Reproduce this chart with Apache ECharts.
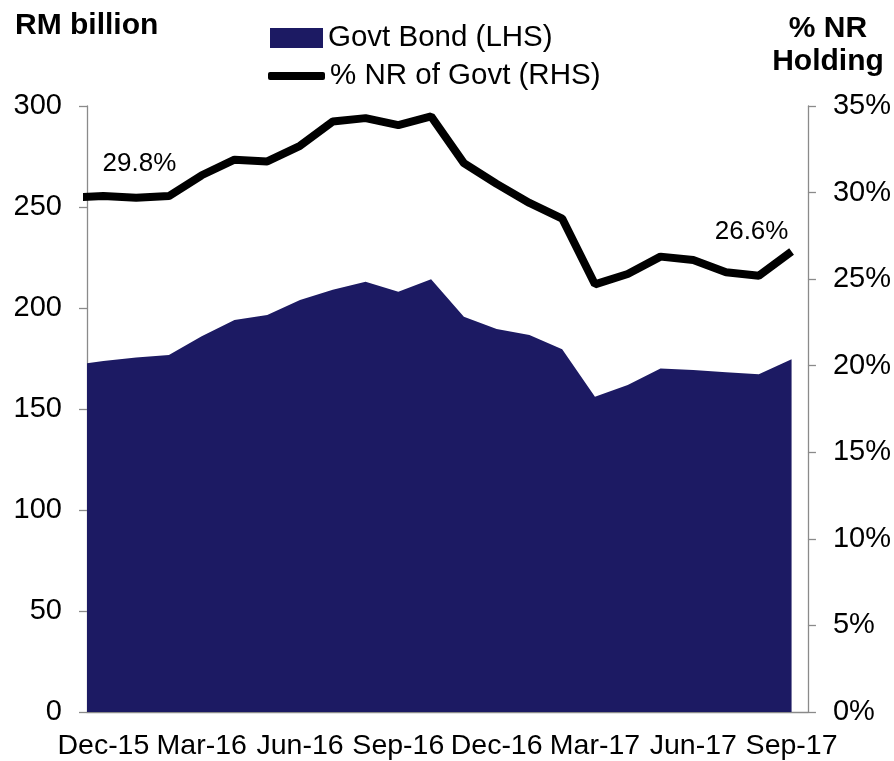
<!DOCTYPE html>
<html><head><meta charset="utf-8">
<script src="https://cdn.jsdelivr.net/npm/echarts@6/dist/echarts.min.js"></script>
<style>html,body{margin:0;padding:0;background:#fff}#c{width:894px;height:761px}</style>
</head><body><div id="c"></div>
<script>
// Monthly data; Nov-15 lies just before the axis start and is clipped (as in the source chart)
const months = ['Nov-15','Dec-15','Jan-16','Feb-16','Mar-16','Apr-16','May-16','Jun-16','Jul-16','Aug-16','Sep-16','Oct-16','Nov-16','Dec-16','Jan-17','Feb-17','Mar-17','Apr-17','May-17','Jun-17','Jul-17','Aug-17','Sep-17'];
const govtBond = [171.5,173.8,175.5,176.7,186.0,194.0,196.5,204.0,209.0,213.0,208.0,214.2,195.7,189.6,186.6,179.6,156.1,161.9,170.1,169.3,168.2,167.2,174.6];
const nrShare = [29.7,29.8,29.7,29.8,31.0,31.9,31.8,32.7,34.1,34.3,33.9,34.4,31.7,30.5,29.4,28.5,24.7,25.3,26.3,26.1,25.4,25.2,26.6];
const labelledMonths = ['Dec-15','Sep-17'];
const leftTitle = 'RM billion';
const rightTitle = '% NR\nHolding';
const bondName = 'Govt Bond (LHS)';
const nrName = '% NR of Govt (RHS)';

const FONT = '"Liberation Sans", Arial, sans-serif';
const GRAY = '#8a8a8a';
const NAVY = '#1c1a63';

const categories = months.slice(1);
const xPos = months.map((m, i) => i - 0.5);   // month-centre positions on the band axis
const bondData = govtBond.map((v, i) => [xPos[i], v]);
const nrData = nrShare.map((v, i) => [xPos[i], v]);

const labelOffsets = { 'Dec-15': [36, -32], 'Sep-17': [-40, -20] };
const markData = labelledMonths.map(m => {
  const i = months.indexOf(m);
  return { coord: [xPos[i], nrShare[i]], value: nrShare[i], label: { offset: labelOffsets[m] } };
});

const axisLineStyle = { color: GRAY, width: 1.3 };
const chart = echarts.init(document.getElementById('c'));
chart.setOption({
  animation: false,
  backgroundColor: '#fff',
  grid: { left: 87, right: 86, top: 106, bottom: 49 },
  graphic: [
    { type: 'text', x: 15, y: 11, style: { text: leftTitle, font: 'bold 30px "Liberation Sans", Arial', fill: '#000', textVerticalAlign: 'top' } },
    { type: 'text', x: 828, y: 12, style: { text: rightTitle, font: 'bold 30px "Liberation Sans", Arial', fill: '#000', textAlign: 'center', textVerticalAlign: 'top', lineHeight: 33 } }
  ],
  legend: [
    { data: [{ name: bondName, icon: 'rect' }], left: 265, top: 18, itemWidth: 53, itemHeight: 20, selectedMode: false,
      textStyle: { fontSize: 29.5, color: '#000', fontFamily: FONT } },
    { data: [{ name: nrName, icon: 'roundRect' }], left: 263, top: 56, itemWidth: 57, itemHeight: 8, selectedMode: false,
      textStyle: { fontSize: 29.5, color: '#000', fontFamily: FONT } }
  ],
  xAxis: [
    { type: 'category', data: categories, boundaryGap: true,
      axisLine: { lineStyle: axisLineStyle },
      axisTick: { interval: 2, length: 8, lineStyle: axisLineStyle },
      axisLabel: { interval: 2, color: '#000', fontSize: 28.5, fontFamily: FONT, margin: 20 },
      splitLine: { show: false } },
    { type: 'value', min: 0, max: categories.length, show: false }
  ],
  yAxis: [
    { type: 'value', min: 0, max: 300, interval: 50, position: 'left',
      axisLine: { show: true, lineStyle: axisLineStyle },
      axisTick: { show: true, length: 8, lineStyle: axisLineStyle },
      axisLabel: { color: '#000', fontSize: 29, fontFamily: FONT, margin: 25 },
      splitLine: { show: false } },
    { type: 'value', min: 0, max: 35, interval: 5, position: 'right',
      axisLine: { show: true, lineStyle: axisLineStyle },
      axisTick: { show: true, length: 8, lineStyle: axisLineStyle },
      axisLabel: { color: '#000', fontSize: 29, fontFamily: FONT, margin: 25, formatter: '{value}%' },
      splitLine: { show: false } }
  ],
  series: [
    { name: bondName, type: 'line', xAxisIndex: 1, yAxisIndex: 0, data: bondData,
      symbol: 'none', showSymbol: false, clip: true, z: 2,
      lineStyle: { width: 0, color: NAVY }, itemStyle: { color: NAVY },
      areaStyle: { color: NAVY, opacity: 1 } },
    { name: nrName, type: 'line', xAxisIndex: 1, yAxisIndex: 1, data: nrData,
      symbol: 'none', showSymbol: false, clip: true, z: 3,
      lineStyle: { width: 8, color: '#000' }, itemStyle: { color: '#000' },
      markPoint: { symbol: 'circle', symbolSize: 1, silent: true, itemStyle: { color: 'rgba(0,0,0,0)' },
        label: { show: true, position: 'inside', color: '#000', fontSize: 26, fontFamily: FONT,
          formatter: p => p.value.toFixed(1) + '%' },
        data: markData } }
  ]
});
</script></body></html>
